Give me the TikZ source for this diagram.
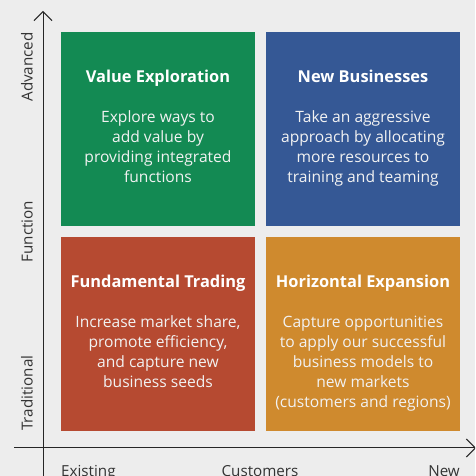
\documentclass[tikz,border=0pt]{standalone}
\usepackage{fontspec}
\setmainfont{Open Sans}
\usetikzlibrary{arrows.meta}
\definecolor{bgc}{HTML}{EDEDED}
\definecolor{qgreen}{HTML}{138A53}
\definecolor{qblue}{HTML}{355895}
\definecolor{qred}{HTML}{B64A31}
\definecolor{qorange}{HTML}{CF8A2E}
\definecolor{axisc}{HTML}{333333}
\tikzset{
  quad/.style={minimum width=194pt, minimum height=194pt, inner sep=0pt, draw=none},
  qtitle/.style={text=white, anchor=base, inner sep=0pt, font=\bfseries\fontsize{16.4}{20}\selectfont},
  qbody/.style={text=white!95!black, anchor=north, inner sep=0pt, align=center, font=\fontsize{15.6}{20}\selectfont},
  axisline/.style={line width=1pt, draw=black!85},
  axislabel/.style={text=axisc, inner sep=0pt, font=\fontsize{15.2}{18}\selectfont},
}
\begin{document}
\begin{tikzpicture}[x=1pt,y=1pt]
  \fill[bgc] (0,0) rectangle (475,476);
  \useasboundingbox (0,0) rectangle (475,476);
  \clip (0,0) rectangle (475,476);

  % quadrants
  \node[quad, fill=qgreen]  (ve) at (158,347) {};
  \node[quad, fill=qblue]   (nb) at (363,347) {};
  \node[quad, fill=qred]    (ft) at (158,142) {};
  \node[quad, fill=qorange] (he) at (363,142) {};

  % titles and descriptions
  \node[qtitle] (vet) at ([yshift=-51pt]ve.north) {Value Exploration};
  \node[qbody]  (veb) at ([yshift=-79pt]ve.north) {Explore ways to\\add value by\\providing integrated\\functions};

  \node[qtitle] (nbt) at ([yshift=-51pt]nb.north) {New Businesses};
  \node[qbody]  (nbb) at ([yshift=-79pt]nb.north) {Take an aggressive\\approach by allocating\\more resources to\\training and teaming};

  \node[qtitle] (ftt) at ([yshift=-51pt]ft.north) {Fundamental Trading};
  \node[qbody]  (ftb) at ([yshift=-79pt]ft.north) {Increase market share,\\promote efficiency,\\and capture new\\business seeds};

  \node[qtitle] (het) at ([yshift=-51pt]he.north) {Horizontal Expansion};
  \node[qbody]  (heb) at ([yshift=-79pt]he.north) {Capture opportunities\\to apply our successful\\business models to\\new markets\\(customers and regions)};

  % axes
  \coordinate (ybot) at (43,0);
  \coordinate (ytop) at (43,465);
  \coordinate (xl) at (14,28);
  \coordinate (xr) at (476,28);
  \draw[axisline, -{Straight Barb[length=9pt,width=18pt]}] (ybot) -- (ytop);
  \draw[axisline, -{Straight Barb[length=9pt,width=18pt]}] (xl) -- (xr);

  % axis labels
  \node[axislabel, rotate=90, anchor=south east] (adv) at (33,444) {Advanced};
  \node[axislabel, rotate=90, anchor=south] (fun) at (33,244.5) {Function};
  \node[axislabel, rotate=90, anchor=south west] (tra) at (33,45) {Traditional};
  \node[axislabel, anchor=base west] (exi) at (61,-1) {Existing};
  \node[axislabel, anchor=base] (cus) at (260,-1) {Customers};
  \node[axislabel, anchor=base east] (new) at (460,-1) {New};
\end{tikzpicture}
\end{document}
